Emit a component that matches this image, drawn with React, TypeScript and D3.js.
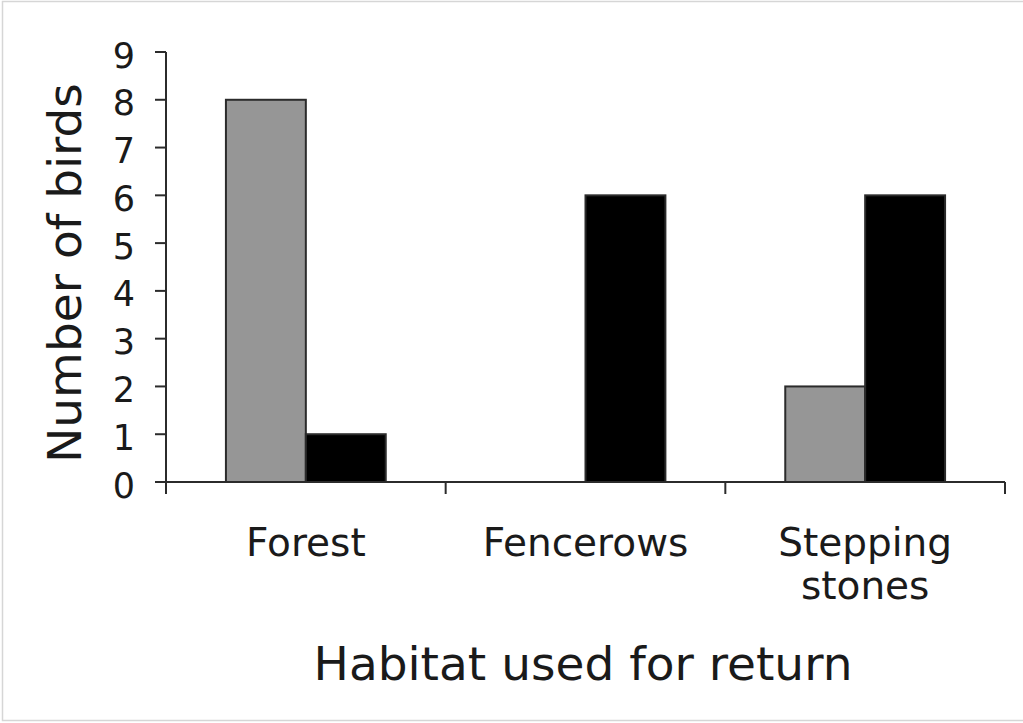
import React from "react";
import * as d3 from "d3";

const categories: string[][] = [["Forest"], ["Fencerows"], ["Stepping", "stones"]];
const seriesKeys = ["gray", "black"];
const grayValues = [8, 0, 2];
const blackValues = [1, 6, 6];
const yTicks = [0, 1, 2, 3, 4, 5, 6, 7, 8, 9];
const colors: Record<string, string> = { gray: "#969696", black: "#000000" };

const W = 1023;
const H = 723;
const margin = { left: 166, right: 18, top: 52, bottom: 241 };

export default function App() {
  const plotW = W - margin.left - margin.right;
  const plotBottom = H - margin.bottom;
  const keys = categories.map((c) => c.join(" "));
  const x0 = d3.scaleBand<string>().domain(keys).range([margin.left, margin.left + plotW]).paddingInner(0).paddingOuter(0);
  const step = x0.step();
  const x1 = d3
    .scaleBand<string>()
    .domain(seriesKeys)
    .range([0, step])
    .paddingInner(0)
    .paddingOuter(0.75);
  const y = d3.scaleLinear().domain([0, 9]).range([plotBottom, margin.top]);
  const font = "'DejaVu Sans', Verdana, sans-serif";
  const textColor = "#1a1a1a";
  const values: Record<string, number[]> = { gray: grayValues, black: blackValues };

  const boundaries = [...keys.map((k) => x0(k)!), margin.left + plotW];

  return (
    <svg width={W} height={H} style={{ position: "absolute", left: 0, top: 0 }}>
      <rect x={0} y={0} width={W} height={H} fill="#fff" />
      <rect x={2.5} y={1.5} width={W + 4} height={H - 4} fill="none" stroke="#d6d6d6" strokeWidth={1.5} />
      {keys.map((k, i) =>
        seriesKeys.map((s) => {
          const v = values[s][i];
          if (v <= 0) return null;
          const bx = x0(k)! + x1(s)!;
          return (
            <rect
              key={k + s}
              x={bx}
              y={y(v)}
              width={x1.bandwidth()}
              height={y(0) - y(v)}
              fill={colors[s]}
              stroke="#2b2b2b"
              strokeWidth={2}
            />
          );
        })
      )}
      {/* y axis */}
      <line x1={margin.left} x2={margin.left} y1={y(9)} y2={y(0)} stroke="#2b2b2b" strokeWidth={2} />
      {yTicks.map((t) => (
        <g key={t}>
          <line x1={margin.left - 11} x2={margin.left} y1={y(t)} y2={y(t)} stroke="#2b2b2b" strokeWidth={2} />
          <text x={135} y={y(t) + 3} dy="0.36em" textAnchor="end" fontFamily={font} fontSize={35} fill={textColor}>
            {t}
          </text>
        </g>
      ))}
      {/* x axis */}
      <line x1={margin.left} x2={margin.left + plotW} y1={y(0)} y2={y(0)} stroke="#2b2b2b" strokeWidth={2} />
      {boundaries.map((bx, i) => (
        <line key={i} x1={bx} x2={bx} y1={y(0)} y2={y(0) + 12} stroke="#2b2b2b" strokeWidth={2} />
      ))}
      {categories.map((lines, i) => (
        <text key={i} textAnchor="middle" fontFamily={font} fontSize={39} fill={textColor}>
          {lines.map((ln, j) => (
            <tspan key={j} x={x0(keys[i])! + step / 2} y={556 + j * 43}>
              {ln}
            </tspan>
          ))}
        </text>
      ))}
      <text x={583} y={680} textAnchor="middle" fontFamily={font} fontSize={47} fill={textColor}>
        Habitat used for return
      </text>
      <text
        transform={`translate(81, ${(y(0) + y(9)) / 2 + 6}) rotate(-90)`}
        textAnchor="middle"
        fontFamily={font}
        fontSize={47}
        fill={textColor}
      >
        Number of birds
      </text>
    </svg>
  );
}
